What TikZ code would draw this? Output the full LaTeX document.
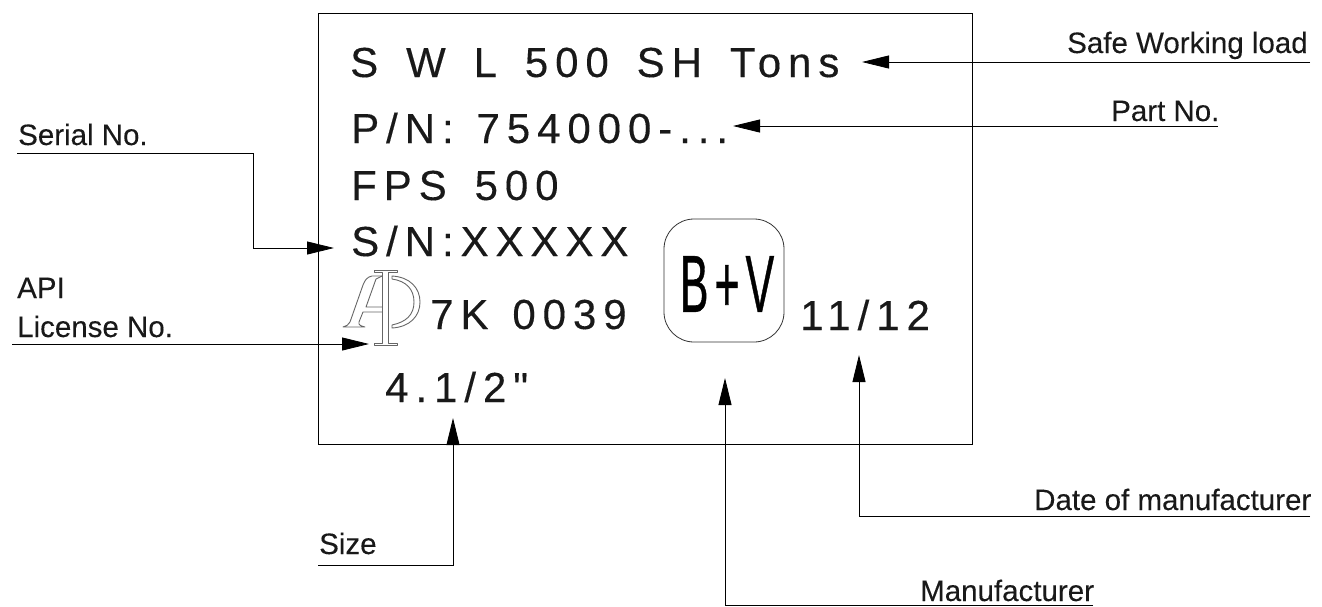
\documentclass[tikz,border=0pt]{standalone}
\usepackage{fontspec}
\setmainfont{Liberation Sans}[FakeBold=0.15]
\newfontfamily\platefont{Liberation Sans}[LetterSpace=16.5,WordSpace=1.5,FakeBold=0.3]
\newfontfamily\bvfont{Liberation Sans}[LetterSpace=14,FakeBold=0.8]
\usetikzlibrary{arrows.meta}
\tikzset{
  lbl/.style={inner sep=0pt,font=\fontsize{29.5}{34}\selectfont,anchor=base west,text=black!90},
  plate/.style={inner sep=0pt,anchor=base west,font=\platefont\fontsize{42}{50}\selectfont,text=black!90},
  lead/.style={draw=black,line width=0.8pt},
  arr/.style={lead,-{Triangle[length=27pt,width=13pt]}},
  logo/.style={draw=black!60,line width=0.9pt,line join=round},
}
\begin{document}
\begin{tikzpicture}[x=1pt,y=-1pt]
\useasboundingbox (0,0) rectangle (1322,606);
\node[draw=black,line width=0.8pt,minimum width=654pt,minimum height=431pt,anchor=north west,inner sep=0pt] (box) at (318,13) {};
\node[plate] (swl) at (350,77) {S W L 500 SH Tons};
\node[plate] (pn) at (351,143) {P/N:\hspace{-5pt} 754000-...};
\node[plate] (fps) at (351,200) {FPS 500};
\node[plate] (sn) at (351,256) {S/N:XXXXX};
\node[plate] (k) at (430,329) {7K\hspace{-4pt} 0039};
\node[plate] (date) at (800,330) {11/12};
\node[plate] (size) at (385,402) {4.1/2"};
\node[draw=black!80,line width=0.8pt,rounded corners=30pt,minimum width=120pt,minimum height=123pt,inner sep=0pt] (bv) at (724,280.5) {};
\node[inner sep=0pt,font=\bvfont\fontsize{81}{90}\selectfont,xscale=0.53] (bvt) at (727,284) {B+V};
% API monogram
\draw[logo] (374,270) -- (397,270) -- (397,272) -- (388,272) -- (388,343) -- (397,343) -- (397,345) -- (374,345) -- (374,343) -- (382,343) -- (382,272) -- (374,272) -- cycle;
\draw[logo] (382,276) -- (372,276) .. controls (367,277) and (365,280) .. (363,285) -- (350,322) .. controls (349,325) and (346,326) .. (343,327) -- (365,327) .. controls (361,326) and (358,325) .. (359,322) -- (363,312) -- (382,312);
\draw[logo] (382,276) -- (376,279) -- (366,307) -- (382,307);
\draw[logo] (392,276) .. controls (410,277) and (420,288) .. (420,302) .. controls (420,316) and (410,327) .. (392,328) -- (392,325) .. controls (406,322) and (414,315) .. (414,302) .. controls (414,289) and (406,281) .. (392,279) -- cycle;
% labels
\node[lbl] (l1) at (1067,53) {Safe Working load};
\coordinate (l1e) at (1310,62);
\coordinate (l1m) at (862,62);
\draw[arr] (l1e) -- (l1m);
\node[lbl] (l2) at (1111,121) {Part No.};
\coordinate (l2e) at (1218,126);
\coordinate (l2m) at (733,126);
\draw[arr] (l2e) -- (l2m);
\node[lbl] (l3) at (18,145) {Serial No.};
\coordinate (l3e) at (17,153);
\coordinate (l3m) at (334,248);
\draw[arr] (l3e) -- (253,153) -- (253,248) -- (l3m);
\node[lbl] (l4) at (17,298) {API};
\node[lbl] (l5) at (17,337) {License No.};
\coordinate (l5e) at (12,344);
\coordinate (l5m) at (369,344);
\draw[arr] (l5e) -- (l5m);
\node[lbl] (l6) at (319,554) {Size};
\coordinate (l6e) at (318,565);
\coordinate (l6m) at (453,418);
\draw[arr] (l6e) -- (453,565) -- (l6m);
\node[lbl] (l7) at (920,601) {Manufacturer};
\coordinate (l7e) at (1093,605);
\coordinate (l7m) at (725,378);
\draw[arr] (l7e) -- (725,605) -- (l7m);
\node[lbl] (l8) at (1034,510) {Date of manufacturer};
\coordinate (l8e) at (1310,516);
\coordinate (l8m) at (859,355);
\draw[arr] (l8e) -- (859,516) -- (l8m);
\end{tikzpicture}
\end{document}
